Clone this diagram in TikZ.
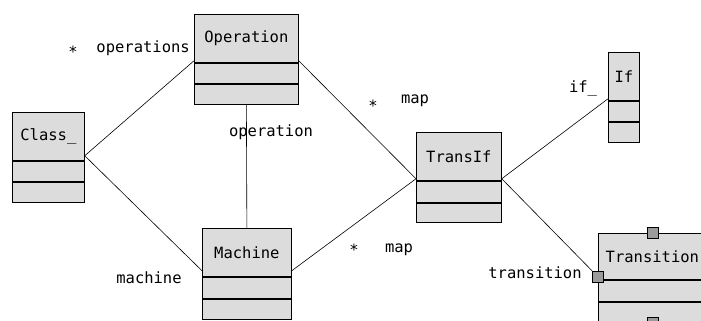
\documentclass[tikz,border=0pt]{standalone}
\usepackage{fontspec}
\setmonofont{DejaVu Sans Mono}
\usetikzlibrary{positioning}
\definecolor{umlfill}{HTML}{DCDCDC}
\definecolor{umlport}{HTML}{9A9A9A}

\begin{document}
\begin{tikzpicture}[x=1pt,y=-1pt,font=\fontsize{15.5}{18}\selectfont\ttfamily,
  cname/.style={draw,fill=umlfill,line width=0.75pt,minimum height=48,inner sep=0pt,
                anchor=north west},
  cpart/.style={draw,fill=umlfill,line width=0.75pt,minimum height=20,inner sep=0pt,
                anchor=north},
  portbox/.style={draw,fill=umlport,line width=0.75pt,minimum size=11,inner sep=0pt},
  assoc/.style={line width=0.6pt},
  role/.style={inner sep=1pt},
  mult/.style={inner sep=0pt}]

\clip (0,0) rectangle (701,321);

% ---------------- classes ---------------------------------------------------
\node[cname,minimum width=72] (cls) at (12,112) {Class\_};
\node[cpart,minimum width=72] (cls1) at (cls.south) {};
\node[cpart,minimum width=72] (cls2) at (cls1.south) {};

\node[cname,minimum width=104] (op) at (194,14) {Operation};
\node[cpart,minimum width=104] (op1) at (op.south) {};
\node[cpart,minimum width=104] (op2) at (op1.south) {};

\node[cname,minimum width=89] (mach) at (202,228) {Machine};
\node[cpart,minimum width=89,minimum height=21] (mach1) at (mach.south) {};
\node[cpart,minimum width=89] (mach2) at (mach1.south) {};

\node[cname,minimum width=85] (tif) at (416,132) {TransIf};
\node[cpart,minimum width=85,minimum height=21] (tif1) at (tif.south) {};
\node[cpart,minimum width=85,minimum height=19] (tif2) at (tif1.south) {};

\node[cname,minimum width=31] (ifc) at (608,52) {If};
\node[cpart,minimum width=31] (ifc1) at (ifc.south) {};
\node[cpart,minimum width=31] (ifc2) at (ifc1.south) {};

\node[cname,minimum width=108,minimum height=46] (trn) at (598,233) {Transition};
\node[cpart,minimum width=108,minimum height=21] (trn1) at (trn.south) {};
\node[cpart,minimum width=108,minimum height=21] (trn2) at (trn1.south) {};

% ---------------- ports on Transition ---------------------------------------
\node[portbox] (portT) at (trn.north) {};
\node[portbox] (portL) at ([yshift=3]trn.south west) {};
\node[portbox] (portR) at ([yshift=3]trn.south east) {};
\node[portbox] (portB) at (trn2.south) {};

% ---------------- associations ----------------------------------------------
\draw[assoc] ([yshift=5]cls.south east) -- ([yshift=2]op.south west);
\draw[assoc] ([yshift=5]cls.south east) -- ([yshift=6]mach.south west);
\draw[assoc] (op2.south) -- (mach.north);
\draw[assoc] ([yshift=2]op.south east) -- ([yshift=2]tif.south west);
\draw[assoc] ([yshift=6]mach.south east) -- ([yshift=2]tif.south west);
\draw[assoc] ([yshift=2]tif.south east) -- ([yshift=2]ifc.south west);
\draw[assoc] ([yshift=2]tif.south east) -- (portL.north west);

% ---------------- role names and multiplicities -----------------------------
\node[mult] (m1) at (73,52) {*};
\node[role,anchor=east] (r1) at (191,48) {operations};
\node[role] (r2) at (271,132) {operation};
\node[role] (r3) at (149,278) {machine};
\node[mult] (m2) at (373,106) {*};
\node[role] (r4) at (415,101) {map};
\node[mult] (m3) at (354,250) {*};
\node[role] (r5) at (399,250) {map};
\node[role] (r6) at (583,88) {if\_};
\node[role] (r7) at (535,273) {transition};

\end{tikzpicture}
\end{document}
